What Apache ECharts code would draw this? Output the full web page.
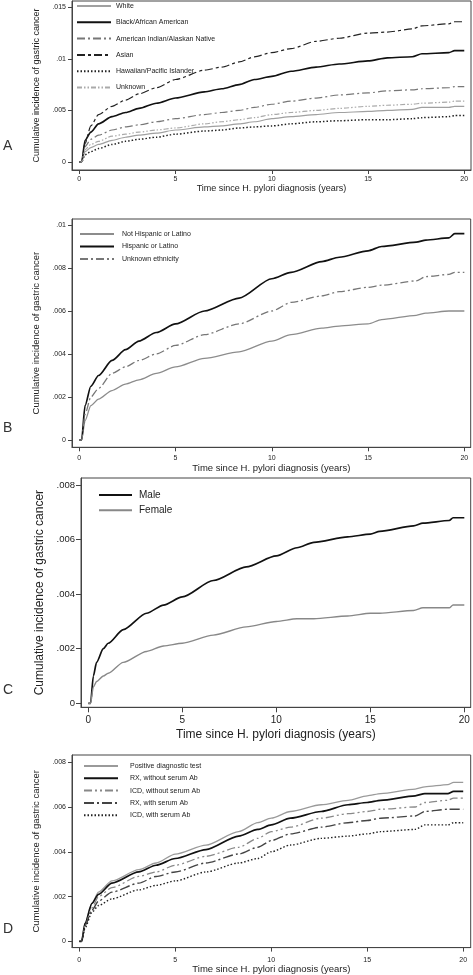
<!DOCTYPE html>
<html>
<head>
<meta charset="utf-8">
<script src="https://cdn.jsdelivr.net/npm/echarts@6/dist/echarts.min.js"></script>
<style>
html,body{margin:0;padding:0;background:#fff;}
#c{width:473px;height:975px;}
</style>
</head>
<body>
<div id="c"></div>
<script>
// ---------- Panel A : race ----------
const tA = [0, 0.12, 0.3, 0.6, 1, 1.7, 2.4, 3.1, 4, 5, 6.5, 7.4, 8.3, 9.1, 10, 11, 12.3, 13.5, 15, 16, 17.3, 17.8, 19.2, 19.5, 20];
const whiteA    = [0, 0, .0010, .0014, .0017, .0021, .0024, .0026, .0028, .0031, .0034, .0035, .0037, .0039, .0042, .0044, .0046, .0048, .0049, .0050, .0051, .0053, .0053, .0054, .0054];
const blackA    = [0, 0, .0021, .0029, .0037, .0044, .0048, .0052, .0057, .0062, .0068, .0071, .0075, .0080, .0083, .0088, .0092, .0095, .0098, .0101, .0102, .0105, .0106, .0108, .0108];
const aianA     = [0, 0, .0015, .0022, .0026, .0031, .0034, .0036, .0039, .0042, .0046, .0048, .0050, .0053, .0056, .0059, .0062, .0065, .0067, .0069, .0070, .0071, .0072, .0073, .0073];
const asianA    = [0, 0, .0018, .0035, .0046, .0054, .0060, .0066, .0072, .0080, .0089, .0092, .0097, .0102, .0106, .0110, .0117, .0120, .0125, .0126, .0129, .0132, .0134, .0136, .0136];
const hawaiiA   = [0, 0, .0007, .0010, .0013, .0017, .0020, .0022, .0024, .0027, .0030, .0031, .0033, .0034, .0035, .0037, .0039, .0040, .0041, .0041, .0042, .0043, .0044, .0045, .0045];
const unknownA  = [0, 0, .0012, .0017, .0020, .0025, .0027, .0029, .0031, .0033, .0037, .0039, .0041, .0043, .0046, .0048, .0050, .0052, .0054, .0055, .0056, .0057, .0058, .0059, .0059];
const namesA = ['White', 'Black/African American', 'American Indian/Alaskan Native', 'Asian', 'Hawaiian/Pacific Islander', 'Unknown'];
const yTicksA = [0, 0.005, 0.01, 0.015];

// ---------- Panel B : ethnicity ----------
const tB = [0, 0.12, 0.3, 0.6, 1, 1.7, 2.4, 3.1, 4, 5, 6.5, 8.3, 10, 11, 12.6, 13.5, 15, 15.7, 17.5, 18, 19.2, 19.5, 20];
const notHispB  = [0, 0, .0009, .0016, .0019, .0023, .0026, .0028, .0031, .0034, .0038, .0041, .0046, .0049, .0052, .0053, .0054, .0056, .0058, .0059, .0060, .0060, .0060];
const hispB     = [0, 0, .0016, .0025, .0030, .0037, .0042, .0046, .0050, .0054, .0060, .0066, .0075, .0078, .0083, .0085, .0088, .0090, .0092, .0093, .0094, .0096, .0096];
const unkEthB   = [0, 0, .0012, .0020, .0024, .0031, .0034, .0037, .0040, .0044, .0049, .0054, .0060, .0064, .0067, .0069, .0071, .0072, .0074, .0076, .0077, .0078, .0078];
const namesB = ['Not Hispanic or Latino', 'Hispanic or Latino', 'Unknown ethnicity'];
const yTicksB = [0, 0.002, 0.004, 0.006, 0.008, 0.01];

// ---------- Panel C : sex ----------
const tC = [0, 0.12, 0.27, 0.44, 0.8, 1.06, 1.86, 3.1, 4, 5, 6.65, 8.4, 10, 11.1, 12, 13.8, 15, 15.5, 17.3, 17.8, 19.2, 19.4, 20];
const maleC     = [0, 0, .0010, .0015, .0020, .0022, .0027, .0033, .0036, .0039, .0045, .0050, .0054, .0057, .0059, .0061, .0062, .0063, .0065, .0066, .0067, .0068, .0068];
const femaleC   = [0, 0, .0006, .0008, .0010, .0011, .0015, .0019, .0021, .0022, .0025, .0028, .0030, .0031, .0031, .0032, .0033, .0033, .0034, .0035, .0035, .0036, .0036];
const namesC = ['Male', 'Female'];
const yTicksC = [0, 0.002, 0.004, 0.006, 0.008];

// ---------- Panel D : diagnosis definition ----------
const tD = [0, 0.12, 0.3, 0.66, 1, 1.7, 3.1, 4, 5, 6.6, 8.3, 9.3, 10, 11, 12.6, 14, 15, 15.7, 17.5, 18, 19.2, 19.5, 20];
const posTestD  = [0, 0, .0008, .0017, .0022, .0027, .0032, .0035, .0039, .0043, .0049, .0053, .0055, .0058, .0061, .0063, .0065, .0066, .0068, .0069, .0070, .0071, .0071];
const rxNoAbD   = [0, 0, .0008, .0017, .0021, .0026, .0031, .0034, .0037, .0041, .0047, .0050, .0052, .0055, .0058, .0061, .0062, .0063, .0065, .0066, .0066, .0067, .0067];
const icdNoAbD  = [0, 0, .0007, .0015, .0020, .0024, .0029, .0031, .0034, .0038, .0042, .0046, .0049, .0051, .0055, .0057, .0058, .0059, .0060, .0062, .0063, .0064, .0064];
const rxAbD     = [0, 0, .0007, .0014, .0018, .0022, .0026, .0029, .0031, .0035, .0039, .0042, .0045, .0048, .0051, .0053, .0054, .0055, .0056, .0058, .0059, .0059, .0059];
const icdAbD    = [0, 0, .0006, .0013, .0016, .0019, .0023, .0025, .0027, .0031, .0035, .0037, .0040, .0043, .0046, .0047, .0048, .0049, .0050, .0052, .0052, .0053, .0053];
const namesD = ['Positive diagnostic test', 'RX, without serum Ab', 'ICD, without serum Ab', 'RX, with serum Ab', 'ICD, with serum Ab'];
const yTicksD = [0, 0.002, 0.004, 0.006, 0.008];

const xTicks = [0, 5, 10, 15, 20];
const xTitle = 'Time since H. pylori diagnosis (years)';
const yTitle = 'Cumulative incidence of gastric cancer';
const panelLetters = ['A', 'B', 'C', 'D'];

// ---------- build ----------
const FONT = '"Liberation Sans", Arial, Helvetica, sans-serif';
const TXT = '#222';
const pairs = (t, v) => t.map((x, i) => [x, v[i]]);
const yFmt = v => (v === 0 ? '0' : String(v).replace(/^0/, ''));

function mkX(idx, min, max, fs, labelMargin, nameGap, nameFs, tickLen) {
  return {
    type: 'value', gridIndex: idx, min: min, max: max,
    name: xTitle, nameLocation: 'middle', nameGap: nameGap,
    nameTextStyle: {fontSize: nameFs, color: TXT, fontFamily: FONT},
    axisLine: {show: true, onZero: false, lineStyle: {color: '#444', width: 1}},
    axisTick: {show: true, length: tickLen, customValues: xTicks, lineStyle: {color: '#444'}},
    axisLabel: {customValues: xTicks, fontSize: fs, color: TXT, fontFamily: FONT, margin: labelMargin},
    splitLine: {show: false}
  };
}
function mkY(idx, min, max, ticks, fs, labelMargin, nameGap, nameFs, tickLen) {
  return {
    type: 'value', gridIndex: idx, min: min, max: max,
    name: yTitle, nameLocation: 'middle', nameGap: nameGap,
    nameTextStyle: {fontSize: nameFs, color: TXT, fontFamily: FONT},
    axisLine: {show: true, onZero: false, lineStyle: {color: '#444', width: 1}},
    axisTick: {show: true, length: tickLen, customValues: ticks, lineStyle: {color: '#444'}},
    axisLabel: {customValues: ticks, fontSize: fs, color: TXT, fontFamily: FONT, margin: labelMargin, formatter: yFmt},
    splitLine: {show: false}
  };
}
function ser(name, idx, t, v, color, width, type) {
  return {
    name: name, type: 'line', xAxisIndex: idx, yAxisIndex: idx,
    data: pairs(t, v), symbol: 'none', showSymbol: false,
    smooth: 0.25, smoothMonotone: 'x',
    lineStyle: {color: color, width: width, type: type}, itemStyle: {color: color},
    animation: false
  };
}
function leg(names, left, top, itemW, itemH, gap, fs, textPad) {
  return {
    data: names, left: left, top: top, orient: 'vertical', itemWidth: itemW, itemHeight: itemH,
    itemGap: gap, padding: 0, selectedMode: false,
    itemStyle: {opacity: 0},
    textStyle: {fontSize: fs, color: TXT, fontFamily: FONT, lineHeight: itemH, padding: [0, 0, 0, textPad]}
  };
}

const gridStyle = {show: true, borderColor: '#444', borderWidth: 1, backgroundColor: '#fff'};

const option = {
  backgroundColor: '#fff',
  animation: false,
  grid: [
    Object.assign({left: 72, top: 1, width: 399, height: 169}, gridStyle),
    Object.assign({left: 72, top: 219, width: 398.7, height: 228.3}, gridStyle),
    Object.assign({left: 81, top: 478, width: 389.7, height: 229.3}, gridStyle),
    Object.assign({left: 72, top: 755, width: 398.7, height: 195}, gridStyle)
  ],
  xAxis: [
    mkX(0, -0.379, 20.35, 7, 6, 14.5, 9, 4),
    mkX(1, -0.379, 20.33, 7, 7.5, 15.6, 9.5, 4),
    mkX(2, -0.388, 20.34, 10, 8, 21, 12, 5),
    mkX(3, -0.38, 20.39, 7, 8.5, 14.5, 9.5, 4)
  ],
  yAxis: [
    mkY(0, -0.000776, 0.01561, yTicksA, 7, 6, 24, 9, 4),
    mkY(1, -0.00034, 0.010279, yTicksB, 7, 6, 24, 9.5, 4),
    mkY(2, -0.000147, 0.008257, yTicksC, 9.5, 6, 29, 12, 5),
    mkY(3, -0.000278, 0.008322, yTicksD, 7, 6, 24, 9.5, 4)
  ],
  legend: [
    leg(namesA, 76, 2, 34, 8, 8.3, 7, 0),
    leg(namesB, 79, 230, 34, 8, 4.5, 7, 3),
    leg(namesC, 98, 490, 33, 10, 5.3, 10, 2),
    leg(namesD, 83, 762, 34, 8, 4.3, 7, 7)
  ],
  series: [
    ser(namesA[0], 0, tA, whiteA, '#a0a0a0', 1.2, 'solid'),
    ser(namesA[1], 0, tA, blackA, '#111', 1.6, 'solid'),
    ser(namesA[2], 0, tA, aianA, '#777', 1.2, [8, 3, 2, 3]),
    ser(namesA[3], 0, tA, asianA, '#222', 1.2, [8, 3, 3, 3]),
    ser(namesA[4], 0, tA, hawaiiA, '#222', 1.5, [1.5, 2]),
    ser(namesA[5], 0, tA, unknownA, '#aaa', 1.2, [5, 2, 1.5, 2, 1.5, 2]),

    ser(namesB[0], 1, tB, notHispB, '#8c8c8c', 1.3, 'solid'),
    ser(namesB[1], 1, tB, hispB, '#111', 1.7, 'solid'),
    ser(namesB[2], 1, tB, unkEthB, '#777', 1.3, [8, 3, 2, 3]),

    ser(namesC[0], 2, tC, maleC, '#111', 1.7, 'solid'),
    ser(namesC[1], 2, tC, femaleC, '#888', 1.4, 'solid'),

    ser(namesD[0], 3, tD, posTestD, '#9a9a9a', 1.3, 'solid'),
    ser(namesD[1], 3, tD, rxNoAbD, '#111', 1.7, 'solid'),
    ser(namesD[2], 3, tD, icdNoAbD, '#888', 1.3, [8, 3, 2, 3, 2, 3]),
    ser(namesD[3], 3, tD, rxAbD, '#444', 1.4, [10, 3, 2, 3]),
    ser(namesD[4], 3, tD, icdAbD, '#222', 1.4, [1.5, 2])
  ],
  graphic: [
    {type: 'text', left: 3, top: 139, style: {text: panelLetters[0], font: '14px ' + FONT, fill: '#333'}},
    {type: 'text', left: 3, top: 421, style: {text: panelLetters[1], font: '14px ' + FONT, fill: '#333'}},
    {type: 'text', left: 3, top: 683, style: {text: panelLetters[2], font: '14px ' + FONT, fill: '#333'}},
    {type: 'text', left: 3, top: 922, style: {text: panelLetters[3], font: '14px ' + FONT, fill: '#333'}}
  ]
};

const chart = echarts.init(document.getElementById('c'), null, {renderer: 'canvas', width: 473, height: 975});
chart.setOption(option);
</script>
</body>
</html>
